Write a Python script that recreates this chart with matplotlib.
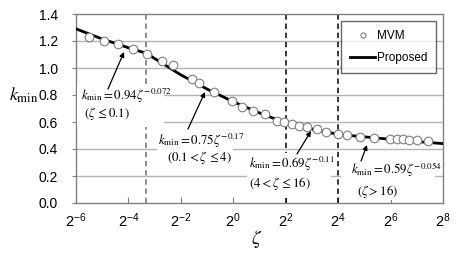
import matplotlib
matplotlib.use("Agg")
import matplotlib.pyplot as plt
from matplotlib.patches import Rectangle
import numpy as np

plt.rcParams['font.family'] = ['Liberation Sans', 'DejaVu Sans']
plt.rcParams['mathtext.fontset'] = 'custom'
plt.rcParams['mathtext.rm'] = 'Liberation Sans'
plt.rcParams['mathtext.it'] = 'Liberation Sans:italic'
plt.rcParams['mathtext.bf'] = 'Liberation Sans:bold'

# ---- data ----
# MVM points: log2(zeta) and k_min
mvm_log2_zeta = [-5.49, -4.92, -4.39, -3.81, -3.29, -2.73, -2.30, -1.56, -1.31, -0.72,
                 -0.04, 0.34, 0.76, 1.21, 1.68, 1.94, 2.23, 2.52, 2.82, 3.18,
                 3.54, 3.98, 4.33, 4.84, 5.37, 5.98, 6.24, 6.49, 6.72, 7.00, 7.44]
mvm_kmin = [1.227, 1.202, 1.178, 1.140, 1.104, 1.052, 1.020, 0.919, 0.887, 0.825,
            0.756, 0.713, 0.681, 0.657, 0.610, 0.598, 0.585, 0.573, 0.565, 0.546,
            0.524, 0.509, 0.504, 0.490, 0.479, 0.474, 0.473, 0.472, 0.470, 0.466, 0.460]

# Proposed curve: log2(zeta) and k_min
prop_log2_zeta = [-6, -5, -4, -3.32, -2, -1, 0, 1, 2, 3, 4, 5, 6, 7, 8]
prop_kmin = [1.29, 1.215, 1.15, 1.109, 0.949, 0.844, 0.750, 0.667, 0.593,
             0.548, 0.508, 0.490, 0.472, 0.455, 0.440]

# Regime boundaries (zeta)
boundaries = [0.1, 4, 16]

xtick_exps = [-6, -4, -2, 0, 2, 4, 6, 8]
yticks = [0.0, 0.2, 0.4, 0.6, 0.8, 1.0, 1.2, 1.4]

ann_line1 = [r"$k_{\rm min}=0.94\zeta^{-0.072}$",
             r"$k_{\rm min}=0.75\zeta^{-0.17}$",
             r"$k_{\rm min}=0.69\zeta^{-0.11}$",
             r"$k_{\rm min}=0.59\zeta^{-0.054}$"]
ann_line2 = [r"$(\zeta\,\leq 0.1)$",
             r"$(0.1<\zeta\,\leq 4)$",
             r"$(4<\zeta\,\leq 16)$",
             r"$(\zeta>16)$"]

# ---- figure ----
W, H = 462, 254
fig = plt.figure(figsize=(W / 100, H / 100), dpi=100)
L, R, T, B = 76, 443, 14, 203
ax = fig.add_axes([L / W, (H - B) / H, (R - L) / W, (B - T) / H])

def fx(px):
    return (px - L) / (R - L)

def fy(py):
    return (B - py) / (B - T)

ax.set_xscale('log', base=2)
ax.set_xlim(2.0 ** -6, 2.0 ** 8)
ax.set_ylim(0, 1.4)
ax.set_xticks([2.0 ** e for e in xtick_exps])
ax.set_xticklabels([r"$2^{%d}$" % e for e in xtick_exps])
ax.minorticks_off()
ax.set_yticks(yticks)
ax.set_yticklabels(["%.1f" % v for v in yticks])

for y in yticks[1:-1]:
    ax.axhline(y, color='#b4b4b4', lw=1.0, zorder=1)

for s in ax.spines.values():
    s.set_color('#808080')
    s.set_linewidth(1.0)

ax.tick_params(axis='x', direction='in', length=4, color='#808080', pad=6,
               labelsize=10.5, top=False)
ax.tick_params(axis='y', direction='out', length=3, color='#808080', pad=10,
               labelsize=10)

# regime boundaries
for i, b in enumerate(boundaries):
    ax.axvline(b, color='#707070' if i == 0 else 'black', lw=1.1,
               ls=(0, (3.5, 2.5)), zorder=2)

# white boxes behind annotations
boxes = [(77, 84, 164, 127), (157, 128, 233, 168), (247, 153, 331, 198), (341, 160, 435, 200)]
for (x0, y0, x1, y1) in boxes:
    ax.add_patch(Rectangle((fx(x0), fy(y1)), fx(x1) - fx(x0), fy(y0) - fy(y1),
                           transform=ax.transAxes, facecolor='white',
                           edgecolor='none', zorder=3))

ax.plot([2.0 ** v for v in prop_log2_zeta], prop_kmin, color='black', lw=2.0,
        zorder=4, label='Proposed')
ax.plot([2.0 ** v for v in mvm_log2_zeta], mvm_kmin, ls='none', marker='o',
        ms=6.2, mfc='white', mec='#808080', mew=0.8, zorder=5, label='MVM')

# annotations
l1_pos = [(81, 96), (158, 141), (249, 164), (351, 170)]
l2_pos = [(107, 113), (199, 158), (280, 184), (378, 192)]
for i in range(4):
    t = ax.text(fx(l1_pos[i][0]), fy(l1_pos[i][1]), ann_line1[i], transform=ax.transAxes,
                ha='left', va='center', fontsize=9.3, zorder=6)
    t.set_math_fontfamily('stix')
    t = ax.text(fx(l2_pos[i][0]), fy(l2_pos[i][1]), ann_line2[i], transform=ax.transAxes,
                ha='center', va='center', fontsize=9.3, zorder=6)
    t.set_math_fontfamily('stix')

arrows = [((108, 89), (124, 52)), ((188, 129), (205, 92)),
          ((297, 154), (311, 131)), ((361, 161), (367, 145))]
for (tail, head) in arrows:
    ax.annotate('', xy=(fx(head[0]), fy(head[1])), xycoords='axes fraction',
                xytext=(fx(tail[0]), fy(tail[1])), textcoords='axes fraction',
                arrowprops=dict(arrowstyle='-|>', color='black', lw=0.9,
                                mutation_scale=7, shrinkA=0, shrinkB=0),
                zorder=7)

# axis labels
t = ax.set_ylabel(r"$k_{\rm min}$", fontsize=13, rotation=0, labelpad=0,
                  ha='center', va='center')
t.set_math_fontfamily('stix')
ax.yaxis.set_label_coords(fx(24), fy(95))
t = ax.set_xlabel(r"$\zeta$", fontsize=14, va='center')
t.set_math_fontfamily('stix')
ax.xaxis.set_label_coords(fx(257), fy(239))

handles, labels = ax.get_legend_handles_labels()
order = [1, 0]
leg = ax.legend([handles[i] for i in order], [labels[i] for i in order],
                loc='upper right', bbox_to_anchor=(fx(436), fy(21)),
                borderaxespad=0, fancybox=False, frameon=True, fontsize=8.5,
                handlelength=2.1, handletextpad=0.15, labelspacing=0.9,
                markerscale=0.6, borderpad=0.75)
leg.get_frame().set_edgecolor('#404040')
leg.get_frame().set_linewidth(1.0)
leg.set_zorder(8)

fig.savefig('out.png', dpi=100)
